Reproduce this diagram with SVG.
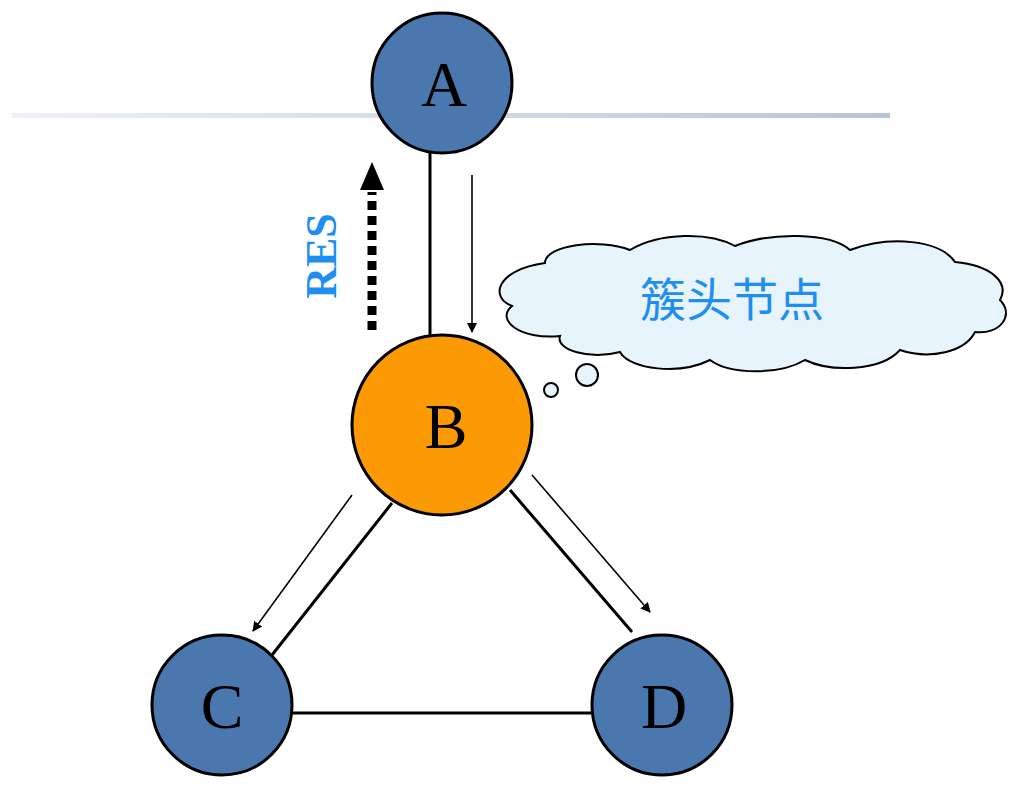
<svg xmlns="http://www.w3.org/2000/svg" width="1024" height="788" viewBox="0 0 1024 788">
<defs>
<linearGradient id="hl" x1="0" x2="1" y1="0" y2="0"><stop offset="0" stop-color="#eef1f6"/><stop offset="1" stop-color="#b8c4d6"/></linearGradient>
<marker id="ah" markerWidth="10" markerHeight="10" refX="9" refY="5" orient="auto" markerUnits="userSpaceOnUse" viewBox="0 0 10 10"><path d="M0,0 L10,5 L0,10 z" fill="#000"/></marker>
<style>
.edge{stroke:#000;stroke-width:3;fill:none}
.arr{stroke:#000;stroke-width:1.6;fill:none}
.blue{fill:#4a78ae;stroke:#000;stroke-width:3}
.lbl{font-family:"Liberation Serif",serif;font-size:64px;text-anchor:middle;fill:#000}
</style>
</defs>
<rect width="1024" height="788" fill="#fff"/>
<rect x="12" y="113" width="878" height="5" fill="url(#hl)"/>
<g id="connectors">
<line class="edge" x1="430" y1="150" x2="430" y2="338"/>
<line class="edge" x1="392" y1="503" x2="272" y2="655"/>
<line class="edge" x1="510" y1="490" x2="632" y2="632"/>
<line class="edge" x1="290" y1="713" x2="595" y2="713"/>
<line class="arr" x1="472" y1="175" x2="472" y2="332" marker-end="url(#ah)" style="stroke-width:1.6"/>
<line class="arr" x1="352" y1="495" x2="253" y2="631" marker-end="url(#ah)"/>
<line class="arr" x1="532" y1="475" x2="650" y2="612" marker-end="url(#ah)"/>
<line x1="372" y1="330" x2="372" y2="192" stroke="#000" stroke-width="9" stroke-dasharray="9,6"/>
<path d="M360,190 L372,162 L384,190 z" fill="#000"/>
<text x="0" y="0" transform="translate(336,256) rotate(-90)" font-family="Liberation Serif,serif" font-weight="bold" font-size="44" fill="#1e8ff0" text-anchor="middle">RES</text>
</g>
<g id="cloud">
<path d="M545,263 C545,245 600,238 630,250 C660,232 710,232 735,246 C770,232 830,232 850,250 C890,235 940,240 955,262 C990,265 1010,282 1000,300 C1015,315 1000,335 975,332 C965,352 930,360 900,350 C880,372 830,372 805,360 C780,375 730,375 710,360 C680,375 630,370 620,352 C590,360 555,350 560,336 C520,340 495,320 512,306 C490,298 495,270 545,263 z" fill="#e8f4fc" stroke="#000" stroke-width="2"/>
<circle cx="587" cy="375" r="11" fill="#e8f4fc" stroke="#000" stroke-width="2"/>
<circle cx="551" cy="390" r="7" fill="#e8f4fc" stroke="#000" stroke-width="2"/>
<text x="732" y="316" font-family="Noto Sans CJK SC,sans-serif" font-size="46" fill="#1e8ff0" text-anchor="middle">簇头节点</text>
</g>
<g id="A"><circle class="blue" cx="442" cy="83" r="70"/><text class="lbl" x="444" y="106">A</text></g>
<g id="B"><circle cx="442" cy="425" r="90" fill="#fb9a04" stroke="#000" stroke-width="3"/><text class="lbl" x="446" y="448">B</text></g>
<g id="C"><circle class="blue" cx="222" cy="705" r="70"/><text class="lbl" x="222" y="728">C</text></g>
<g id="D"><circle class="blue" cx="662" cy="705" r="70"/><text class="lbl" x="664" y="728">D</text></g>
</svg>
